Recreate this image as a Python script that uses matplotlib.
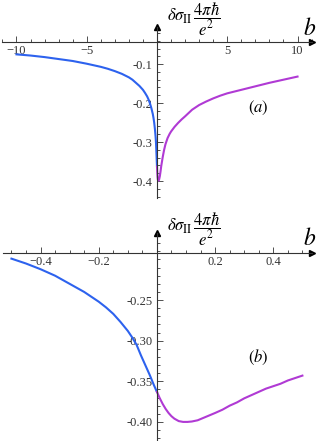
import matplotlib
matplotlib.use("Agg")
import matplotlib.pyplot as plt
from matplotlib.ticker import MultipleLocator, FormatStrFormatter

plt.rcParams['font.family'] = ['Liberation Serif', 'DejaVu Serif']
plt.rcParams['mathtext.fontset'] = 'stix'
plt.rcParams['axes.unicode_minus'] = True

# panel (a): wide range of b
a_neg_b = [-10, -9.5, -9, -8.5, -8, -7.5, -7, -6.5, -6, -5.5, -5, -4.5, -4,
           -3.5, -3, -2.5, -2, -1.75, -1.5, -1.25, -1, -0.85, -0.7, -0.6,
           -0.5, -0.4, -0.3, -0.25, -0.2, -0.15, -0.1, -0.07, -0.05, -0.03,
           -0.015, 0]
a_neg_y = [-0.075, -0.0765, -0.078, -0.080, -0.082, -0.0845, -0.087, -0.0895,
           -0.092, -0.0955, -0.099, -0.103, -0.107, -0.112, -0.118, -0.125,
           -0.134, -0.140, -0.148, -0.156, -0.166, -0.174, -0.183, -0.191,
           -0.201, -0.213, -0.228, -0.238, -0.250, -0.266, -0.286, -0.303,
           -0.320, -0.337, -0.350, -0.363]
a_pos_b = [0, 0.01, 0.02, 0.04, 0.06, 0.09, 0.12, 0.15, 0.2, 0.25, 0.3, 0.4,
           0.5, 0.6, 0.75, 0.9, 1.0, 1.25, 1.5, 1.75, 2.0, 2.5, 3.0, 3.5, 4.0,
           4.5, 5, 6, 7, 8, 9, 10]
a_pos_y = [-0.363, -0.371, -0.379, -0.390, -0.396, -0.399, -0.399, -0.396,
           -0.388, -0.376, -0.362, -0.340, -0.321, -0.306, -0.290, -0.279,
           -0.273, -0.261, -0.251, -0.242, -0.234, -0.217, -0.205, -0.196,
           -0.188, -0.181, -0.175, -0.166, -0.157, -0.148, -0.140, -0.132]

# panel (b): zoom near b = 0
b_neg_b = [-0.5, -0.475, -0.45, -0.425, -0.4, -0.375, -0.35, -0.325, -0.3,
           -0.275, -0.25, -0.225, -0.2, -0.175, -0.15, -0.125, -0.1, -0.085,
           -0.07, -0.055, -0.04, -0.025, -0.01, 0]
b_neg_y = [-0.199, -0.202, -0.205, -0.2085, -0.212, -0.216, -0.220, -0.225,
           -0.230, -0.235, -0.240, -0.246, -0.252, -0.259, -0.267, -0.277,
           -0.288, -0.296, -0.305, -0.318, -0.330, -0.342, -0.355, -0.363]
b_pos_b = [0, 0.01, 0.02, 0.03, 0.04, 0.05, 0.06, 0.075, 0.09, 0.105, 0.12,
           0.14, 0.16, 0.18, 0.2, 0.225, 0.25, 0.275, 0.3, 0.325, 0.35, 0.375,
           0.4, 0.425, 0.45, 0.475, 0.5]
b_pos_y = [-0.363, -0.371, -0.378, -0.384, -0.389, -0.393, -0.396, -0.399,
           -0.400, -0.400, -0.3995, -0.398, -0.395, -0.392, -0.389, -0.385,
           -0.380, -0.376, -0.371, -0.367, -0.363, -0.359, -0.356, -0.353,
           -0.349, -0.346, -0.343]

BLUE = '#2d62ee'
PURPLE = '#b03ad4'
AX = '#333333'

W, H = 316, 441
fig = plt.figure(figsize=(W / 100, H / 100), dpi=100)


def setup_axes(rect, xlim, ylim, ycross, xticks, xmin, yticks, ymin, yfmt):
    ax = fig.add_axes(rect)
    ax.patch.set_alpha(0)
    for s in ['top', 'right']:
        ax.spines[s].set_visible(False)
    ax.spines['left'].set_position(('data', 0))
    ax.spines['bottom'].set_position(('data', ycross))
    for s in ['left', 'bottom']:
        ax.spines[s].set_color(AX)
        ax.spines[s].set_linewidth(0.8)
    ax.set_xticks(xticks)
    ax.set_yticks(yticks)
    ax.xaxis.set_minor_locator(MultipleLocator(xmin))
    ax.yaxis.set_minor_locator(MultipleLocator(ymin))
    ax.yaxis.set_major_formatter(FormatStrFormatter(yfmt))
    ax.set_xlim(xlim)
    ax.set_ylim(ylim)
    ax.tick_params(which='both', direction='in', colors=AX, labelsize=9,
                   width=0.6)
    ax.tick_params(which='major', length=4, pad=2)
    ax.tick_params(which='minor', length=2)
    ax.tick_params(axis='y', pad=3)
    # arrows at the axis ends
    ax.plot(1, ycross, '>', color='black', ms=5,
            transform=ax.get_yaxis_transform(), clip_on=False)
    ax.plot(0, 1, '^', color='black', ms=5,
            transform=ax.get_xaxis_transform(), clip_on=False)
    return ax


def px(x, y):
    return x / W, 1 - y / H


# top panel
ax1 = setup_axes([2 / W, 1 - 198 / H, 310 / W, 171.3 / H],
                 (-11.03, 11.03), (-0.4436, -0.004), -0.0436,
                 [-10, -5, 5, 10], 1, [-0.4, -0.3, -0.2, -0.1], 0.02, '%.1f')
ax1.set_xticklabels(['\u221210', '\u22125', '5', '10'])
ax1.plot(a_neg_b, a_neg_y, color=BLUE, lw=1.5)
ax1.plot(a_pos_b, a_pos_y, color=PURPLE, lw=1.5)

# bottom panel
ax2 = setup_axes([3 / W, 0, 309 / W, 1 - 233.3 / H],
                 (-0.529, 0.533), (-0.4235, -0.1678), -0.1922,
                 [-0.4, -0.2, 0.2, 0.4], 0.05, [-0.40, -0.35, -0.30, -0.25],
                 0.01, '%.2f')
ax2.set_xticklabels(['\u22120.4', '\u22120.2', '0.2', '0.4'])
ax2.plot(b_neg_b, b_neg_y, color=BLUE, lw=1.5)
ax2.plot(b_pos_b, b_pos_y, color=PURPLE, lw=1.5)

ylab = r'$\delta\sigma_{\rm II}\,\dfrac{4\pi\hbar}{e^2}$'
for yc, bc, tag, tagc in [(19, 29, r'$(a)$', 108), (229, 239, r'$(b)$', 357)]:
    fig.text(*px(194, yc), ylab, fontsize=12, ha='center', va='center')
    fig.text(*px(310, bc), r'$b$', fontsize=17, ha='center', va='center')
    fig.text(*px(258, tagc), tag, fontsize=12, ha='center', va='center')

fig.savefig('out.png', dpi=100)
